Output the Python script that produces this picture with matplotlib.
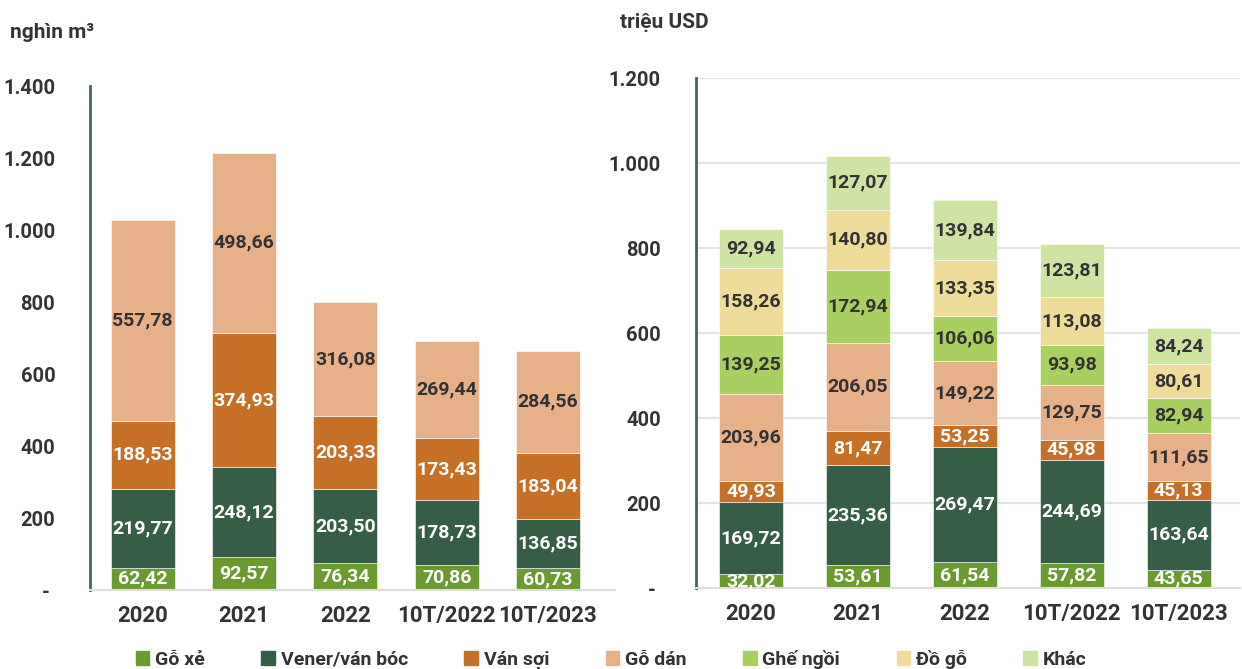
import numpy as np
import matplotlib.pyplot as plt
from matplotlib.patches import Patch

plt.rcParams['font.family'] = ['Roboto', 'DejaVu Sans']
plt.rcParams['font.weight'] = 'bold'

years = ['2020', '2021', '2022', '10T/2022', '10T/2023']

# left panel: nghìn m3
vol_go_xe = [62.42, 92.57, 76.34, 70.86, 60.73]
vol_vener = [219.77, 248.12, 203.50, 178.73, 136.85]
vol_van_soi = [188.53, 374.93, 203.33, 173.43, 183.04]
vol_go_dan = [557.78, 498.66, 316.08, 269.44, 284.56]

# right panel: triệu USD
val_go_xe = [32.02, 53.61, 61.54, 57.82, 43.65]
val_vener = [169.72, 235.36, 269.47, 244.69, 163.64]
val_van_soi = [49.93, 81.47, 53.25, 45.98, 45.13]
val_go_dan = [203.96, 206.05, 149.22, 129.75, 111.65]
val_ghe_ngoi = [139.25, 172.94, 106.06, 93.98, 82.94]
val_do_go = [158.26, 140.80, 133.35, 113.08, 80.61]
val_khac = [92.94, 127.07, 139.84, 123.81, 84.24]

names = ['Gỗ xẻ', 'Vener/ván bóc', 'Ván sợi', 'Gỗ dán', 'Ghế ngồi', 'Đồ gỗ', 'Khác']
colors = ['#6b9a30', '#365e47', '#c57026', '#e6b189', '#a9cf62', '#efdb9a', '#cfe3a3']
txt_colors = ['white', 'white', 'white', '#333333', '#333333', '#333333', '#333333']
dark = '#333333'


def fmt(v):
    return f'{v:.2f}'.replace('.', ',')


def stack(ax, series, width):
    x = np.arange(len(years))
    bottom = np.zeros(len(years))
    for i, s in enumerate(series):
        s = np.array(s)
        ax.bar(x, s, width, bottom=bottom, color=colors[i], edgecolor='white', linewidth=0.4)
        for xi, b, v in zip(x, bottom, s):
            ax.text(xi, b + v / 2, fmt(v), ha='center', va='center',
                    fontsize=14, fontweight='bold', color=txt_colors[i])
        bottom += s


def fmt_tick(v, pos):
    if v == 0:
        return '- '
    return f'{int(v):,}'.replace(',', '.')


fig = plt.figure(figsize=(12.42, 6.69), dpi=100)

ax1 = fig.add_axes([0.0725, 0.118, 0.4225, 0.753])
stack(ax1, [vol_go_xe, vol_vener, vol_van_soi, vol_go_dan], 0.63)
ax1.set_ylim(0, 1400)
ax1.set_yticks(np.arange(0, 1401, 200))
ax1.set_xlim(-0.52, 4.66)

ax2 = fig.add_axes([0.560, 0.121, 0.438, 0.762])
stack(ax2, [val_go_xe, val_vener, val_van_soi, val_go_dan, val_ghe_ngoi, val_do_go, val_khac], 0.6)
ax2.set_ylim(0, 1200)
ax2.set_yticks(np.arange(0, 1201, 200))
ax2.set_xlim(-0.52, 4.57)
ax2.yaxis.grid(True, color='#e3e3e3', linewidth=1.5)
ax2.set_axisbelow(True)

for ax in (ax1, ax2):
    ax.set_xticks(np.arange(len(years)))
    ax.set_xticklabels(years)
    ax.yaxis.set_major_formatter(plt.FuncFormatter(fmt_tick))
    ax.tick_params(length=0, labelsize=14.5, colors=dark)
    ax.tick_params(axis='x', pad=11, labelsize=16)
    ax.tick_params(axis='y', pad=25)
    for sp in ['top', 'right']:
        ax.spines[sp].set_visible(False)
    ax.spines['left'].set_color('#3d6b4f')
    ax.spines['left'].set_linewidth(2)
    ax.spines['bottom'].set_color('#dddddd')
    ax.spines['bottom'].set_linewidth(1.5)

fig.text(0.008, 0.952, 'nghìn m³', fontsize=15, fontweight='bold', color=dark, va='center')
fig.text(0.499, 0.967, 'triệu USD', fontsize=15, fontweight='bold', color=dark, va='center')

handles = [Patch(color=c, label=n) for c, n in zip(colors, names)]
fig.legend(handles=handles, loc='center', bbox_to_anchor=(0.492, 0.015), ncol=7,
           frameon=False, fontsize=14, handlelength=0.7, handleheight=0.7,
           handletextpad=0.3, columnspacing=2.9, labelcolor=dark)

fig.savefig('out.png', dpi=100)
